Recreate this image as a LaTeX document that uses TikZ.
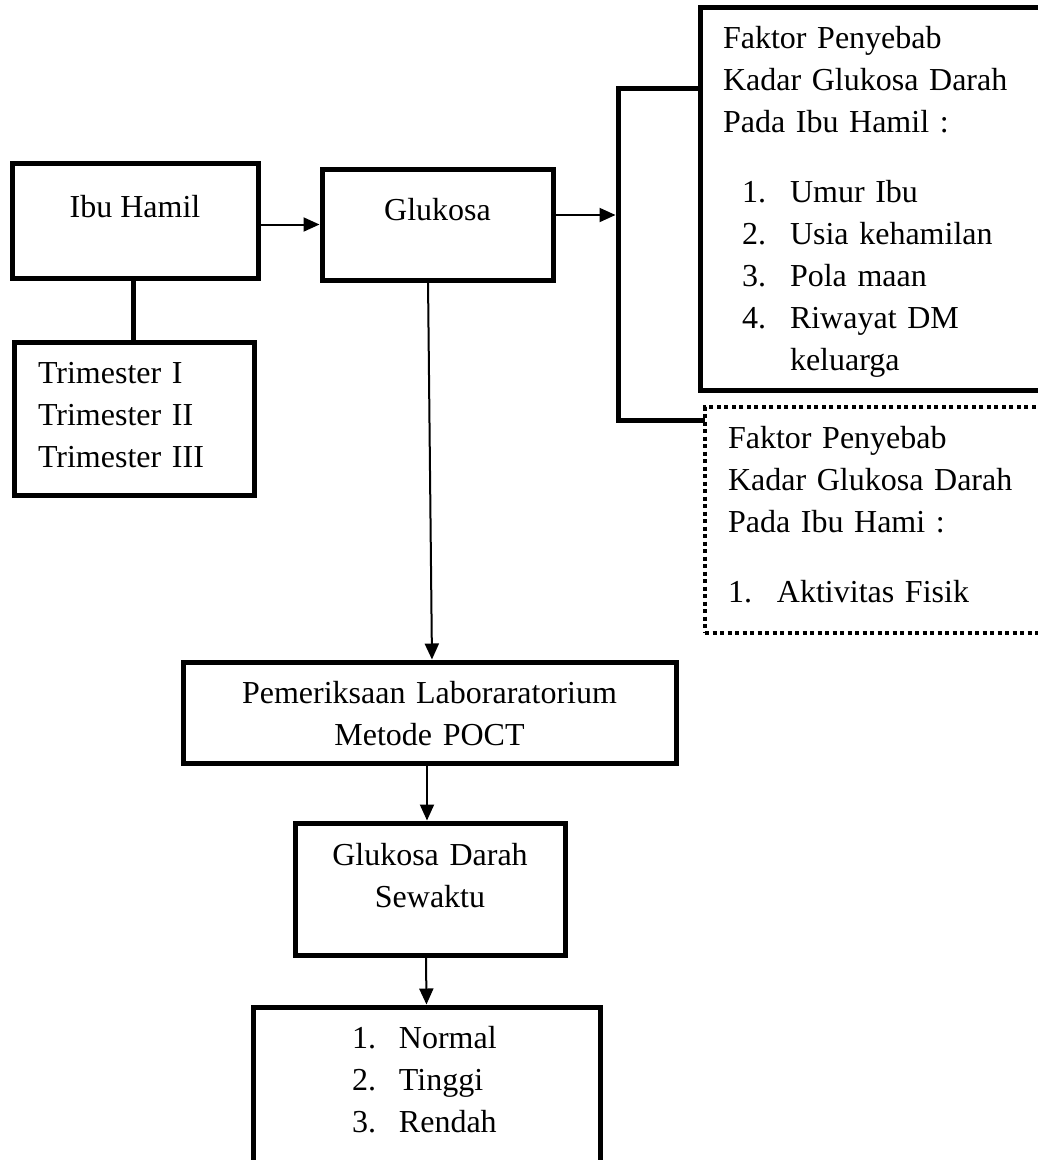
\documentclass[tikz,border=0pt]{standalone}
\usepackage{fontspec}
\setmainfont{Liberation Serif}
\usetikzlibrary{positioning, arrows.meta}
\tikzset{
  block/.style={
    draw,
    rectangle,
    line width=5pt,
    inner ysep=0pt,
    outer sep=0pt,
    font=\fontsize{32}{42.2}\selectfont
  },
  dotblock/.style={
    block,
    line width=4pt,
    dash pattern=on 4pt off 3.5pt
  },
  link/.style={
    line width=2pt,
    shorten >=2.5pt,
    -{Triangle[length=16pt, width=14pt]}
  },
  bar/.style={
    line width=5pt
  }
}
\begin{document}
\begin{tikzpicture}[x=1pt, y=-1pt]
    \useasboundingbox (0,0) rectangle (1038,1160);

    \node[block, minimum width=246pt, text height=54pt, text depth=61pt, anchor=base] (ibu) at (135,217) {Ibu Hamil};
    \node[block, text width=192pt, inner xsep=24pt, align=left, text height=41pt, text depth=112pt, anchor=base west] (tri) at (14,383)
      {Trimester I\\Trimester II\\Trimester III};
    \node[block, minimum width=231pt, text height=51pt, text depth=60pt, anchor=base] (gluk) at (437.5,220) {Glukosa};

    \node[block, text width=314pt, inner xsep=23pt, align=left, text height=41pt, text depth=342pt, anchor=base west] (fak1) at (700,48)
      {Faktor Penyebab\\Kadar Glukosa Darah\\Pada Ibu Hamil :\\[27.4pt]
       \hspace*{19pt}\makebox[48pt][l]{1.}Umur Ibu\\
       \hspace*{19pt}\makebox[48pt][l]{2.}Usia kehamilan\\
       \hspace*{19pt}\makebox[48pt][l]{3.}Pola maan\\
       \hspace*{19pt}\makebox[48pt][l]{4.}Riwayat DM\\
       \hspace*{67pt}keluarga};
    \node[dotblock, text width=310pt, inner xsep=23pt, align=left, text height=41pt, text depth=185pt, anchor=base west] (fak2) at (705,448)
      {Faktor Penyebab\\Kadar Glukosa Darah\\Pada Ibu Hami :\\[27.4pt]
       \makebox[49pt][l]{1.}Aktivitas Fisik};

    \node[block, text width=493pt, inner xsep=0pt, align=center, text height=41pt, text depth=60pt, anchor=base] (pem) at (429.5,703)
      {Pemeriksaan Laboraratorium\\Metode POCT};
    \node[block, text width=270pt, inner xsep=0pt, align=center, text height=42pt, text depth=90pt, anchor=base] (gds) at (430,865)
      {Glukosa Darah\\Sewaktu};
    \node[block, text width=347pt, inner xsep=0pt, align=left, text height=41pt, text depth=132pt, anchor=base] (hasil) at (426.5,1048)
      {\hspace*{99pt}\makebox[47pt][l]{1.}Normal\\
       \hspace*{99pt}\makebox[47pt][l]{2.}Tinggi\\
       \hspace*{99pt}\makebox[47pt][l]{3.}Rendah};

    \coordinate (brtop) at (618,88);
    \coordinate (brbot) at (618,420);
    \coordinate (gout) at ([yshift=9.5pt]gluk.east);

    \draw[bar] ([xshift=-2pt]ibu.south) -- ([xshift=-1pt]tri.north);
    \draw[bar] (fak1.west |- brtop) -- (brtop) -- (brbot) -- (brbot -| fak2.west);
    \draw[link] (ibu.east |- gluk.west) -- (gluk.west);
    \draw[link] (gout) -- (gout -| brtop);
    \draw[link] ([xshift=-9.5pt]gluk.south) -- ([xshift=2.5pt]pem.north);
    \draw[link] ([xshift=-2.5pt]pem.south) -- ([xshift=-3pt]gds.north);
    \draw[link] ([xshift=-4pt]gds.south) -- (hasil.north);
\end{tikzpicture}
\end{document}
